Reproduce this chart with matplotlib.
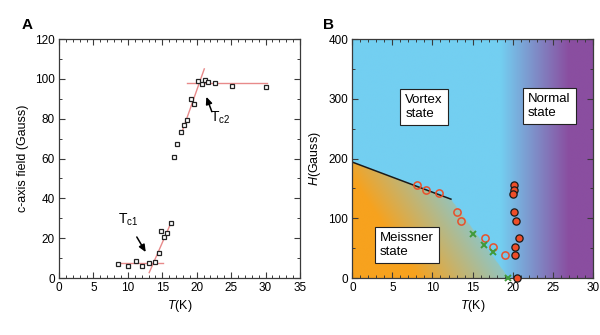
import numpy as np
import matplotlib
matplotlib.use('Agg')
from matplotlib import pyplot as plt
from matplotlib.ticker import MultipleLocator

plt.rcParams['font.family'] = ['Liberation Sans', 'DejaVu Sans']
plt.rcParams['mathtext.fontset'] = 'custom'
plt.rcParams['mathtext.rm'] = 'Liberation Sans'
plt.rcParams['mathtext.it'] = 'Liberation Sans:italic'
plt.rcParams['font.size'] = 8.5

# panel A: c-axis field vs temperature
temp_a = [8.6, 10.0, 11.2, 12.1, 13.0, 13.9, 14.5, 14.8, 15.3, 15.7, 16.2,
          16.7, 17.2, 17.7, 18.2, 18.6, 19.1, 19.6, 20.2, 20.7, 21.2, 21.7,
          22.7, 25.1, 30.1]
field_a = [7.2, 6.2, 8.5, 6.2, 7.5, 7.9, 12.5, 23.7, 20.7, 22.6, 27.6,
           60.7, 67.4, 73.2, 76.7, 79.4, 89.9, 87.2, 98.9, 97.4, 99.3, 98.4,
           97.8, 96.3, 95.8]

# linear fits (start T, start B, end T, end B)
fits_a = [(8.5, 7.5, 15.1, 7.5),
          (13.1, 2.7, 16.3, 28.0),
          (17.8, 72.7, 21.1, 105.0),
          (18.6, 97.8, 30.2, 97.8)]

# panel B: phase diagram
hc1_open_t = [8.1, 9.2, 10.8, 13.0, 13.6, 16.6, 17.5, 19.0]
hc1_open_h = [155, 146.5, 142, 111, 95, 67, 52, 38]
cross_t = [15.0, 16.4, 17.5, 19.4]
cross_h = [74, 56, 43, 0]
hc2_t = [20.2, 20.2, 20.0, 20.2, 20.4, 20.8, 20.3, 20.3, 20.5]
hc2_h = [155, 146.5, 141, 111, 95, 67, 52, 38, 0]
hc1_line_t = [0, 12.3]
hc1_line_h = [194, 132]
# Meissner boundary nodes
bound_t = [0, 12.3, 19.5]
bound_h = [194, 132, 0]

fig = plt.figure(figsize=(6.0, 3.35), dpi=100)
ax1 = fig.add_axes([0.0983, 0.1701, 0.4017, 0.7134])
ax2 = fig.add_axes([0.5872, 0.1701, 0.4008, 0.7134])

spine_col = '#3a3a3a'
for ax in (ax1, ax2):
    for s in ax.spines.values():
        s.set_color(spine_col)
        s.set_linewidth(0.9)
    ax.tick_params(which='both', direction='in', top=True, right=True,
                   color=spine_col, labelsize=8.5, pad=3)
    ax.tick_params(which='major', length=4, width=0.8)
    ax.tick_params(which='minor', length=2, width=0.7)

# ---- A ----
for t0, b0, t1, b1 in fits_a:
    ax1.plot([t0, t1], [b0, b1], color='#e88a8a', lw=1.0, zorder=2)
ax1.plot(temp_a, field_a, 's', ms=3.3, mfc='white', mec='#222222', mew=0.9,
         zorder=3)
ax1.set_xlim(0, 35)
ax1.set_ylim(0, 120)
ax1.xaxis.set_major_locator(MultipleLocator(5))
ax1.xaxis.set_minor_locator(MultipleLocator(1))
ax1.yaxis.set_major_locator(MultipleLocator(20))
ax1.yaxis.set_minor_locator(MultipleLocator(10))
ax1.set_xlabel('$T$(K)', fontsize=9, labelpad=3)
ax1.set_ylabel('c-axis field (Gauss)', fontsize=9, labelpad=4)

arrow = dict(arrowstyle='-|>,head_length=0.5,head_width=0.22', color='black',
             lw=1.1, shrinkA=0, shrinkB=0)
ax1.annotate('', xy=(21.4, 91), xytext=(22.2, 83.5), arrowprops=arrow)
ax1.annotate('', xy=(12.6, 13), xytext=(11.3, 20.6), arrowprops=arrow)
ax1.text(22.0, 80.2, r'T$_{\mathrm{c2}}$', fontsize=10, ha='left', va='center')
ax1.text(10.0, 29.0, r'T$_{\mathrm{c1}}$', fontsize=10, ha='center',
         va='center')

# ---- B ----
blue = np.array([115, 207, 241]) / 255
orange = np.array([247, 162, 30]) / 255
purple = np.array([138, 78, 160]) / 255
tt, hh = np.meshgrid(np.linspace(0, 30, 600), np.linspace(0, 400, 400))
right = np.clip((tt - 18.5) / 8.5, 0, 1)[..., None]
img = blue * (1 - right) + purple * right
inside = hh < np.interp(tt, bound_t, bound_h, right=0)
mix = np.clip((tt / 19.5 + hh / 400 - 0.42) / 0.75, 0, 1)[..., None]
low = orange * (1 - mix) + blue * mix
img = np.where(inside[..., None], low, img)
ax2.imshow(img, extent=[0, 30, 0, 400], origin='lower', aspect='auto',
           interpolation='bilinear', zorder=0)

ax2.plot(hc1_line_t, hc1_line_h, color='#1a1a1a', lw=1.1, zorder=2)
ax2.plot(hc1_open_t, hc1_open_h, 'o', ms=5.2, mfc='none', mec='#e8502a',
         mew=1.1, zorder=3)
ax2.plot(cross_t, cross_h, 'x', ms=5, color='#3f9a3a', mew=1.4, zorder=3,
         clip_on=False)
ax2.plot(hc2_t, hc2_h, 'o', ms=5.2, mfc='#ee4d28', mec='#1a1a1a', mew=0.9,
         zorder=4, clip_on=False)
ax2.set_xlim(0, 30)
ax2.set_ylim(0, 400)
ax2.xaxis.set_major_locator(MultipleLocator(5))
ax2.xaxis.set_minor_locator(MultipleLocator(1))
ax2.yaxis.set_major_locator(MultipleLocator(100))
ax2.yaxis.set_minor_locator(MultipleLocator(50))
ax2.set_xlabel('$T$(K)', fontsize=9, labelpad=3)
ax2.set_ylabel('$H$(Gauss)', fontsize=9, labelpad=4)

box = dict(boxstyle='square,pad=0.4', fc='white', ec='#222222', lw=0.8)
ax2.text(6.6, 286, 'Vortex\nstate', fontsize=9.5, ha='left', va='center',
         bbox=box, linespacing=1.15, zorder=5)
ax2.text(21.9, 288, 'Normal\nstate', fontsize=9.5, ha='left', va='center',
         bbox=box, linespacing=1.15, zorder=5)
ax2.text(3.45, 55, 'Meissner\nstate', fontsize=9.5, ha='left', va='center',
         bbox=box, linespacing=1.15, zorder=5)

fig.text(0.045, 0.925, 'A', fontsize=11, fontweight='bold', ha='center',
         va='center')
fig.text(0.547, 0.925, 'B', fontsize=11, fontweight='bold', ha='center',
         va='center')

fig.savefig('out.png', dpi=100)
